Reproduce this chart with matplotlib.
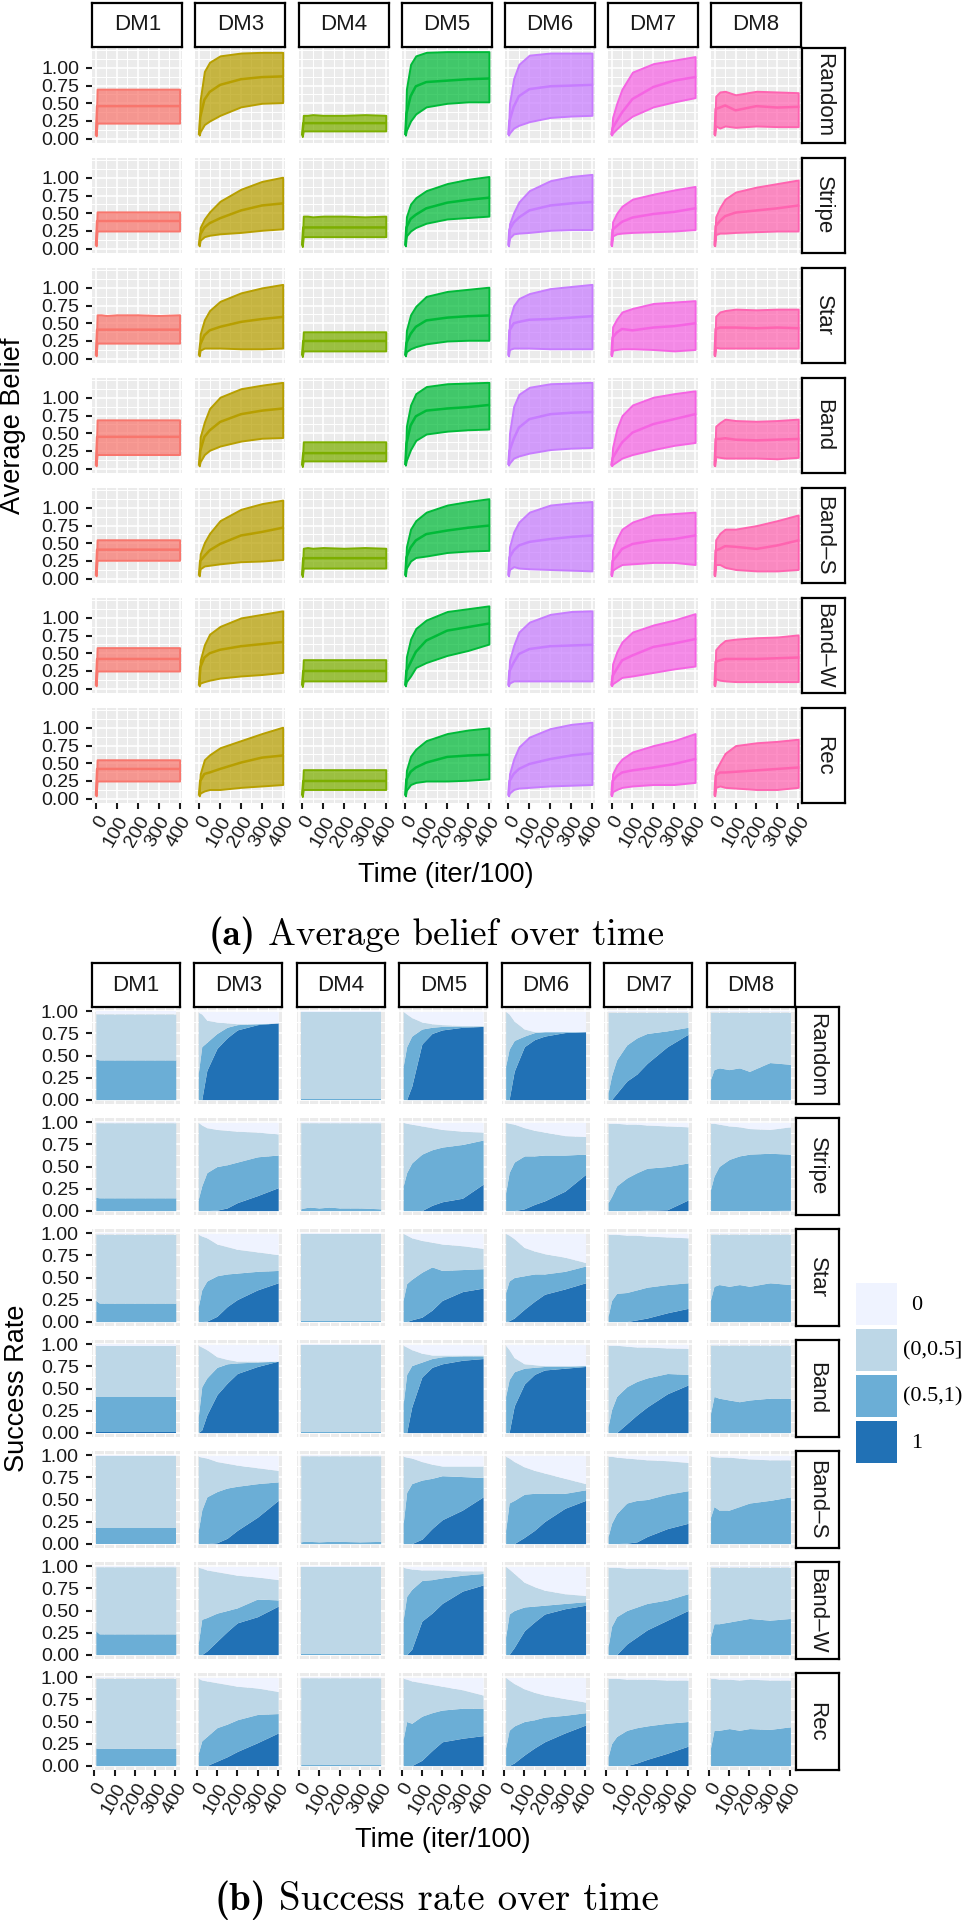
import numpy as np
import matplotlib
matplotlib.use("Agg")
import matplotlib.pyplot as plt
from matplotlib.colors import to_rgba
from matplotlib.patches import Rectangle

plt.rcParams['font.family'] = ['Liberation Sans', 'DejaVu Sans']

# ---------------- data ----------------
DMS = ["DM1", "DM3", "DM4", "DM5", "DM6", "DM7", "DM8"]
TOPOS = ["Random", "Stripe", "Star", "Band", "Band\u2013S", "Band\u2013W", "Rec"]
DM_COLORS = ["#F8766D", "#B79F00", "#7CAE00", "#00BA38", "#C77CFF", "#F564E3", "#FF64B0"]
LEVELS = ["0", "(0,0.5]", "(0.5,1)", "1"]
BLUES = ["#EFF3FF", "#BDD7E7", "#6BAED6", "#2171B5"]

X_TICKS = [0, 100, 200, 300, 400]
Y_TICKS = [0.0, 0.25, 0.5, 0.75, 1.0]
Y_LABELS = ["0.00", "0.25", "0.50", "0.75", "1.00"]

# (a) average belief: time points and, per DM, rows = topologies
TIME_A = [0, 5, 25, 50, 100, 200, 300, 400]

dm1_hi = [[0.09, 0.70, 0.70, 0.70, 0.70, 0.70, 0.70, 0.70],
          [0.08, 0.52, 0.52, 0.52, 0.52, 0.52, 0.52, 0.52],
          [0.08, 0.62, 0.62, 0.61, 0.62, 0.62, 0.61, 0.62],
          [0.09, 0.69, 0.69, 0.69, 0.69, 0.69, 0.69, 0.69],
          [0.08, 0.55, 0.55, 0.55, 0.55, 0.55, 0.55, 0.55],
          [0.08, 0.58, 0.58, 0.58, 0.58, 0.58, 0.58, 0.58],
          [0.08, 0.55, 0.55, 0.55, 0.55, 0.55, 0.55, 0.55]]
dm1_mean = [[0.06, 0.46, 0.46, 0.46, 0.46, 0.46, 0.46, 0.46],
            [0.06, 0.39, 0.39, 0.39, 0.39, 0.39, 0.39, 0.39],
            [0.06, 0.41, 0.41, 0.41, 0.41, 0.41, 0.41, 0.41],
            [0.06, 0.45, 0.45, 0.45, 0.45, 0.45, 0.45, 0.45],
            [0.06, 0.41, 0.41, 0.41, 0.41, 0.41, 0.41, 0.41],
            [0.06, 0.42, 0.42, 0.42, 0.42, 0.42, 0.42, 0.42],
            [0.06, 0.42, 0.42, 0.42, 0.42, 0.42, 0.42, 0.42]]
dm1_lo = [[0.04, 0.22, 0.22, 0.22, 0.22, 0.22, 0.22, 0.22],
          [0.04, 0.25, 0.25, 0.25, 0.25, 0.25, 0.25, 0.25],
          [0.04, 0.22, 0.22, 0.22, 0.22, 0.22, 0.22, 0.22],
          [0.04, 0.20, 0.20, 0.20, 0.20, 0.20, 0.20, 0.20],
          [0.04, 0.26, 0.26, 0.26, 0.26, 0.26, 0.26, 0.26],
          [0.04, 0.25, 0.25, 0.25, 0.25, 0.25, 0.25, 0.25],
          [0.04, 0.25, 0.25, 0.25, 0.25, 0.25, 0.25, 0.25]]

dm3_hi = [[0.10, 0.55, 0.95, 1.08, 1.17, 1.21, 1.22, 1.22],
          [0.08, 0.30, 0.42, 0.52, 0.67, 0.84, 0.95, 1.01],
          [0.08, 0.35, 0.55, 0.68, 0.81, 0.93, 1.00, 1.05],
          [0.08, 0.45, 0.66, 0.85, 1.01, 1.13, 1.18, 1.22],
          [0.08, 0.35, 0.51, 0.64, 0.82, 0.98, 1.06, 1.11],
          [0.08, 0.40, 0.62, 0.77, 0.88, 1.00, 1.05, 1.10],
          [0.08, 0.35, 0.55, 0.62, 0.72, 0.82, 0.92, 1.01]]
dm3_mean = [[0.07, 0.30, 0.55, 0.66, 0.76, 0.84, 0.87, 0.88],
            [0.06, 0.20, 0.30, 0.36, 0.43, 0.54, 0.61, 0.64],
            [0.06, 0.20, 0.33, 0.40, 0.45, 0.52, 0.56, 0.59],
            [0.06, 0.25, 0.45, 0.54, 0.66, 0.77, 0.82, 0.85],
            [0.06, 0.25, 0.32, 0.40, 0.49, 0.61, 0.66, 0.72],
            [0.06, 0.30, 0.44, 0.50, 0.55, 0.60, 0.63, 0.66],
            [0.06, 0.25, 0.35, 0.37, 0.42, 0.51, 0.58, 0.61]]
dm3_lo = [[0.05, 0.10, 0.20, 0.25, 0.33, 0.45, 0.50, 0.51],
          [0.04, 0.12, 0.17, 0.19, 0.21, 0.23, 0.26, 0.28],
          [0.04, 0.12, 0.15, 0.15, 0.15, 0.14, 0.14, 0.15],
          [0.04, 0.10, 0.20, 0.26, 0.32, 0.39, 0.43, 0.44],
          [0.04, 0.14, 0.18, 0.19, 0.21, 0.24, 0.25, 0.27],
          [0.04, 0.08, 0.10, 0.12, 0.15, 0.18, 0.20, 0.23],
          [0.04, 0.08, 0.11, 0.13, 0.13, 0.16, 0.18, 0.20]]

dm4_hi = [[0.08, 0.33, 0.33, 0.34, 0.33, 0.33, 0.34, 0.33],
          [0.08, 0.46, 0.46, 0.45, 0.46, 0.46, 0.45, 0.46],
          [0.08, 0.38, 0.38, 0.38, 0.38, 0.38, 0.38, 0.38],
          [0.08, 0.38, 0.38, 0.38, 0.38, 0.38, 0.38, 0.38],
          [0.08, 0.43, 0.44, 0.43, 0.44, 0.43, 0.44, 0.43],
          [0.08, 0.41, 0.41, 0.41, 0.41, 0.41, 0.41, 0.41],
          [0.08, 0.41, 0.41, 0.41, 0.41, 0.41, 0.41, 0.41]]
dm4_mean = [[0.06, 0.22, 0.22, 0.22, 0.22, 0.22, 0.22, 0.22],
            [0.06, 0.30, 0.30, 0.30, 0.30, 0.30, 0.30, 0.30],
            [0.06, 0.25, 0.25, 0.25, 0.25, 0.25, 0.25, 0.25],
            [0.06, 0.22, 0.22, 0.22, 0.22, 0.22, 0.22, 0.22],
            [0.06, 0.29, 0.29, 0.29, 0.29, 0.29, 0.29, 0.29],
            [0.06, 0.25, 0.25, 0.25, 0.25, 0.25, 0.25, 0.25],
            [0.06, 0.25, 0.25, 0.25, 0.25, 0.25, 0.25, 0.25]]
dm4_lo = [[0.03, 0.11, 0.11, 0.11, 0.11, 0.11, 0.11, 0.11],
          [0.03, 0.17, 0.17, 0.17, 0.17, 0.17, 0.17, 0.17],
          [0.03, 0.11, 0.11, 0.11, 0.11, 0.11, 0.11, 0.11],
          [0.03, 0.11, 0.11, 0.11, 0.11, 0.11, 0.11, 0.11],
          [0.03, 0.15, 0.15, 0.15, 0.15, 0.15, 0.15, 0.15],
          [0.03, 0.11, 0.11, 0.11, 0.11, 0.11, 0.11, 0.11],
          [0.03, 0.13, 0.13, 0.13, 0.13, 0.13, 0.13, 0.13]]

dm5_hi = [[0.10, 0.70, 1.05, 1.17, 1.22, 1.23, 1.23, 1.23],
          [0.08, 0.45, 0.63, 0.72, 0.82, 0.92, 0.98, 1.02],
          [0.08, 0.40, 0.62, 0.74, 0.88, 0.95, 0.98, 1.01],
          [0.10, 0.60, 0.90, 1.06, 1.16, 1.20, 1.21, 1.22],
          [0.08, 0.45, 0.70, 0.82, 0.94, 1.04, 1.09, 1.13],
          [0.08, 0.45, 0.70, 0.85, 0.97, 1.09, 1.13, 1.17],
          [0.08, 0.40, 0.60, 0.70, 0.82, 0.92, 0.97, 1.00]]
dm5_mean = [[0.07, 0.35, 0.60, 0.74, 0.80, 0.82, 0.84, 0.85],
            [0.06, 0.30, 0.42, 0.48, 0.57, 0.65, 0.69, 0.72],
            [0.06, 0.22, 0.35, 0.45, 0.54, 0.58, 0.60, 0.61],
            [0.07, 0.35, 0.61, 0.74, 0.82, 0.85, 0.87, 0.90],
            [0.06, 0.30, 0.44, 0.54, 0.63, 0.68, 0.72, 0.75],
            [0.06, 0.25, 0.37, 0.52, 0.68, 0.82, 0.87, 0.92],
            [0.06, 0.27, 0.38, 0.44, 0.51, 0.59, 0.61, 0.62]]
dm5_lo = [[0.05, 0.12, 0.25, 0.35, 0.45, 0.50, 0.52, 0.52],
          [0.04, 0.18, 0.25, 0.30, 0.36, 0.42, 0.44, 0.46],
          [0.04, 0.10, 0.14, 0.17, 0.21, 0.25, 0.26, 0.26],
          [0.05, 0.12, 0.27, 0.40, 0.49, 0.53, 0.55, 0.56],
          [0.04, 0.15, 0.25, 0.30, 0.32, 0.37, 0.39, 0.40],
          [0.04, 0.10, 0.18, 0.30, 0.37, 0.47, 0.54, 0.63],
          [0.04, 0.12, 0.20, 0.23, 0.25, 0.25, 0.26, 0.28]]

dm6_hi = [[0.10, 0.50, 0.85, 1.05, 1.18, 1.21, 1.21, 1.21],
          [0.08, 0.35, 0.51, 0.66, 0.82, 0.96, 1.02, 1.05],
          [0.08, 0.55, 0.75, 0.85, 0.92, 0.99, 1.02, 1.05],
          [0.10, 0.50, 0.88, 1.05, 1.15, 1.20, 1.21, 1.22],
          [0.08, 0.45, 0.66, 0.80, 0.94, 1.04, 1.07, 1.09],
          [0.08, 0.40, 0.61, 0.80, 0.94, 1.05, 1.09, 1.10],
          [0.08, 0.35, 0.56, 0.73, 0.87, 0.99, 1.05, 1.08]]
dm6_mean = [[0.07, 0.25, 0.45, 0.60, 0.70, 0.74, 0.75, 0.76],
            [0.06, 0.27, 0.37, 0.44, 0.54, 0.61, 0.64, 0.66],
            [0.06, 0.40, 0.50, 0.52, 0.55, 0.56, 0.58, 0.60],
            [0.07, 0.25, 0.42, 0.58, 0.70, 0.77, 0.79, 0.80],
            [0.06, 0.30, 0.40, 0.47, 0.52, 0.56, 0.59, 0.61],
            [0.06, 0.25, 0.37, 0.49, 0.56, 0.60, 0.61, 0.62],
            [0.06, 0.25, 0.35, 0.42, 0.49, 0.56, 0.61, 0.64]]
dm6_lo = [[0.05, 0.08, 0.15, 0.19, 0.24, 0.30, 0.32, 0.33],
          [0.04, 0.15, 0.21, 0.22, 0.23, 0.26, 0.27, 0.27],
          [0.04, 0.13, 0.15, 0.15, 0.15, 0.14, 0.14, 0.14],
          [0.05, 0.08, 0.15, 0.18, 0.22, 0.27, 0.29, 0.30],
          [0.04, 0.13, 0.17, 0.15, 0.14, 0.13, 0.12, 0.11],
          [0.04, 0.08, 0.11, 0.11, 0.11, 0.11, 0.11, 0.11],
          [0.04, 0.08, 0.13, 0.15, 0.16, 0.18, 0.19, 0.20]]

dm7_hi = [[0.08, 0.30, 0.50, 0.70, 0.94, 1.06, 1.11, 1.16],
          [0.08, 0.38, 0.50, 0.60, 0.70, 0.77, 0.83, 0.88],
          [0.08, 0.45, 0.56, 0.66, 0.71, 0.78, 0.80, 0.82],
          [0.08, 0.30, 0.56, 0.75, 0.90, 1.01, 1.06, 1.10],
          [0.08, 0.40, 0.56, 0.70, 0.80, 0.90, 0.92, 0.94],
          [0.08, 0.35, 0.52, 0.66, 0.80, 0.90, 0.97, 1.06],
          [0.08, 0.35, 0.47, 0.56, 0.66, 0.75, 0.82, 0.92]]
dm7_mean = [[0.07, 0.15, 0.25, 0.37, 0.56, 0.73, 0.82, 0.87],
            [0.06, 0.27, 0.32, 0.38, 0.44, 0.49, 0.52, 0.57],
            [0.06, 0.30, 0.37, 0.42, 0.40, 0.44, 0.46, 0.50],
            [0.06, 0.15, 0.25, 0.37, 0.51, 0.63, 0.70, 0.77],
            [0.06, 0.25, 0.32, 0.42, 0.49, 0.54, 0.56, 0.61],
            [0.06, 0.18, 0.28, 0.40, 0.47, 0.59, 0.64, 0.70],
            [0.06, 0.25, 0.32, 0.37, 0.40, 0.44, 0.49, 0.56]]
dm7_lo = [[0.05, 0.08, 0.14, 0.21, 0.32, 0.45, 0.52, 0.58],
          [0.04, 0.18, 0.21, 0.22, 0.23, 0.24, 0.25, 0.27],
          [0.04, 0.12, 0.13, 0.14, 0.14, 0.13, 0.11, 0.13],
          [0.04, 0.06, 0.10, 0.15, 0.20, 0.27, 0.33, 0.37],
          [0.04, 0.12, 0.16, 0.20, 0.21, 0.23, 0.23, 0.20],
          [0.04, 0.07, 0.11, 0.16, 0.18, 0.23, 0.28, 0.32],
          [0.04, 0.10, 0.13, 0.16, 0.18, 0.20, 0.20, 0.23]]

dm8_hi = [[0.10, 0.60, 0.66, 0.67, 0.62, 0.67, 0.66, 0.65],
          [0.08, 0.45, 0.58, 0.70, 0.80, 0.87, 0.92, 0.97],
          [0.08, 0.60, 0.66, 0.68, 0.70, 0.69, 0.70, 0.70],
          [0.08, 0.60, 0.65, 0.70, 0.68, 0.67, 0.68, 0.70],
          [0.08, 0.55, 0.64, 0.70, 0.70, 0.75, 0.82, 0.90],
          [0.08, 0.55, 0.62, 0.68, 0.70, 0.72, 0.73, 0.76],
          [0.08, 0.40, 0.51, 0.64, 0.75, 0.79, 0.81, 0.84]]
dm8_mean = [[0.07, 0.42, 0.44, 0.47, 0.40, 0.46, 0.44, 0.45],
            [0.06, 0.32, 0.39, 0.46, 0.51, 0.54, 0.57, 0.61],
            [0.06, 0.42, 0.44, 0.44, 0.44, 0.43, 0.44, 0.43],
            [0.06, 0.42, 0.42, 0.43, 0.41, 0.40, 0.41, 0.42],
            [0.06, 0.40, 0.42, 0.46, 0.45, 0.42, 0.47, 0.54],
            [0.06, 0.38, 0.40, 0.42, 0.42, 0.42, 0.43, 0.44],
            [0.06, 0.33, 0.37, 0.37, 0.38, 0.40, 0.42, 0.44]]
dm8_lo = [[0.05, 0.18, 0.15, 0.18, 0.16, 0.18, 0.17, 0.17],
          [0.04, 0.20, 0.22, 0.22, 0.23, 0.24, 0.25, 0.25],
          [0.04, 0.16, 0.15, 0.15, 0.15, 0.15, 0.15, 0.15],
          [0.04, 0.17, 0.16, 0.15, 0.15, 0.15, 0.14, 0.16],
          [0.04, 0.20, 0.20, 0.16, 0.13, 0.11, 0.11, 0.13],
          [0.04, 0.14, 0.12, 0.11, 0.10, 0.10, 0.10, 0.10],
          [0.04, 0.16, 0.18, 0.16, 0.15, 0.13, 0.13, 0.16]]

# (b) success rate: cumulative tops of "1", "(0.5,1)", "(0,0.5]"; "0" fills up to 1
TIME_B = [8, 25, 50, 100, 150, 200, 300, 402]

dm1_c1 = [[0.00, 0.00, 0.00, 0.00, 0.00, 0.00, 0.00, 0.00],
          [0.00, 0.00, 0.00, 0.00, 0.00, 0.00, 0.00, 0.00],
          [0.00, 0.00, 0.00, 0.00, 0.00, 0.00, 0.00, 0.00],
          [0.01, 0.01, 0.01, 0.01, 0.01, 0.01, 0.01, 0.01],
          [0.00, 0.00, 0.00, 0.00, 0.00, 0.00, 0.00, 0.00],
          [0.00, 0.00, 0.00, 0.00, 0.00, 0.00, 0.00, 0.00],
          [0.00, 0.00, 0.00, 0.00, 0.00, 0.00, 0.00, 0.00]]
dm1_c2 = [[0.46, 0.45, 0.45, 0.45, 0.45, 0.45, 0.45, 0.45],
          [0.15, 0.145, 0.145, 0.145, 0.145, 0.145, 0.145, 0.145],
          [0.24, 0.21, 0.21, 0.21, 0.21, 0.21, 0.21, 0.21],
          [0.40, 0.40, 0.40, 0.40, 0.40, 0.40, 0.40, 0.40],
          [0.18, 0.18, 0.18, 0.18, 0.18, 0.18, 0.18, 0.18],
          [0.27, 0.235, 0.235, 0.235, 0.235, 0.235, 0.235, 0.235],
          [0.20, 0.195, 0.195, 0.195, 0.195, 0.195, 0.195, 0.195]]
dm1_c3 = [[0.97, 0.97, 0.97, 0.97, 0.97, 0.97, 0.97, 0.97],
          [0.995, 0.995, 0.995, 0.995, 0.995, 0.995, 0.995, 0.995],
          [0.99, 0.99, 0.99, 0.99, 0.99, 0.99, 0.99, 0.99],
          [0.985, 0.985, 0.985, 0.985, 0.985, 0.985, 0.985, 0.985],
          [0.995, 0.995, 0.995, 0.995, 0.995, 0.995, 0.995, 0.995],
          [0.995, 0.995, 0.995, 0.995, 0.995, 0.995, 0.995, 0.995],
          [0.99, 0.99, 0.99, 0.99, 0.99, 0.99, 0.99, 0.99]]

dm3_c1 = [[0.00, 0.00, 0.33, 0.58, 0.70, 0.79, 0.85, 0.87],
          [0.00, 0.00, 0.00, 0.005, 0.03, 0.09, 0.17, 0.26],
          [0.00, 0.00, 0.005, 0.06, 0.17, 0.25, 0.36, 0.44],
          [0.00, 0.03, 0.20, 0.43, 0.56, 0.67, 0.75, 0.81],
          [0.00, 0.00, 0.00, 0.01, 0.06, 0.15, 0.30, 0.49],
          [0.00, 0.00, 0.04, 0.15, 0.26, 0.36, 0.43, 0.55],
          [0.00, 0.00, 0.00, 0.05, 0.10, 0.16, 0.26, 0.37]]
dm3_c2 = [[0.30, 0.60, 0.65, 0.75, 0.82, 0.85, 0.86, 0.87],
          [0.13, 0.28, 0.43, 0.50, 0.52, 0.55, 0.61, 0.63],
          [0.17, 0.36, 0.46, 0.52, 0.54, 0.55, 0.57, 0.58],
          [0.18, 0.52, 0.62, 0.74, 0.78, 0.79, 0.80, 0.81],
          [0.15, 0.38, 0.53, 0.59, 0.63, 0.65, 0.68, 0.70],
          [0.13, 0.40, 0.42, 0.47, 0.50, 0.53, 0.63, 0.62],
          [0.14, 0.28, 0.33, 0.43, 0.47, 0.52, 0.58, 0.59]]
dm3_c3 = [[0.99, 0.97, 0.90, 0.88, 0.87, 0.86, 0.86, 0.87],
          [1.00, 0.97, 0.94, 0.92, 0.91, 0.90, 0.89, 0.87],
          [0.99, 0.97, 0.95, 0.88, 0.85, 0.82, 0.79, 0.76],
          [0.99, 0.97, 0.94, 0.86, 0.83, 0.81, 0.81, 0.81],
          [0.99, 0.98, 0.97, 0.93, 0.91, 0.89, 0.86, 0.83],
          [0.99, 0.98, 0.96, 0.94, 0.92, 0.90, 0.88, 0.85],
          [0.99, 0.97, 0.96, 0.94, 0.92, 0.90, 0.88, 0.84]]

dm4_c1 = [[0.00, 0.00, 0.00, 0.00, 0.00, 0.00, 0.00, 0.00],
          [0.00, 0.00, 0.00, 0.00, 0.00, 0.00, 0.00, 0.00],
          [0.00, 0.00, 0.00, 0.00, 0.00, 0.00, 0.00, 0.00],
          [0.00, 0.00, 0.00, 0.00, 0.00, 0.00, 0.00, 0.00],
          [0.00, 0.00, 0.00, 0.00, 0.00, 0.00, 0.00, 0.00],
          [0.00, 0.00, 0.00, 0.00, 0.00, 0.00, 0.00, 0.00],
          [0.00, 0.00, 0.00, 0.00, 0.00, 0.00, 0.00, 0.00]]
dm4_c2 = [[0.005, 0.005, 0.005, 0.005, 0.005, 0.005, 0.005, 0.005],
          [0.02, 0.03, 0.04, 0.03, 0.04, 0.03, 0.03, 0.02],
          [0.008, 0.008, 0.008, 0.008, 0.008, 0.008, 0.008, 0.008],
          [0.005, 0.005, 0.005, 0.005, 0.005, 0.005, 0.005, 0.005],
          [0.02, 0.025, 0.025, 0.02, 0.025, 0.025, 0.02, 0.025],
          [0.012, 0.012, 0.012, 0.012, 0.012, 0.012, 0.012, 0.012],
          [0.012, 0.012, 0.012, 0.012, 0.015, 0.012, 0.012, 0.012]]
dm4_c3 = [[0.995, 0.995, 0.995, 0.995, 0.995, 0.995, 0.995, 0.995],
          [0.995, 0.995, 0.995, 0.995, 0.995, 0.995, 0.995, 0.995],
          [0.995, 0.995, 0.995, 0.995, 0.995, 0.995, 0.995, 0.995],
          [0.995, 0.995, 0.995, 0.995, 0.995, 0.995, 0.995, 0.995],
          [0.995, 0.995, 0.995, 0.995, 0.995, 0.995, 0.995, 0.995],
          [0.995, 0.995, 0.995, 0.995, 0.995, 0.995, 0.995, 0.995],
          [0.995, 0.995, 0.995, 0.995, 0.995, 0.995, 0.995, 0.995]]

dm5_c1 = [[0.00, 0.00, 0.15, 0.63, 0.75, 0.79, 0.82, 0.83],
          [0.00, 0.00, 0.00, 0.00, 0.06, 0.10, 0.14, 0.30],
          [0.00, 0.00, 0.02, 0.05, 0.13, 0.24, 0.34, 0.38],
          [0.00, 0.00, 0.29, 0.63, 0.74, 0.78, 0.82, 0.84],
          [0.00, 0.00, 0.00, 0.05, 0.17, 0.27, 0.38, 0.53],
          [0.00, 0.00, 0.06, 0.38, 0.47, 0.58, 0.72, 0.79],
          [0.00, 0.00, 0.00, 0.06, 0.17, 0.27, 0.31, 0.34]]
dm5_c2 = [[0.38, 0.60, 0.72, 0.80, 0.82, 0.83, 0.83, 0.83],
          [0.28, 0.43, 0.54, 0.64, 0.69, 0.72, 0.75, 0.80],
          [0.25, 0.43, 0.48, 0.56, 0.62, 0.58, 0.59, 0.60],
          [0.33, 0.66, 0.76, 0.80, 0.84, 0.86, 0.87, 0.87],
          [0.23, 0.58, 0.68, 0.72, 0.74, 0.77, 0.76, 0.75],
          [0.40, 0.66, 0.74, 0.84, 0.85, 0.87, 0.90, 0.92],
          [0.30, 0.50, 0.48, 0.56, 0.60, 0.63, 0.65, 0.65]]
dm5_c3 = [[1.00, 0.97, 0.93, 0.88, 0.86, 0.85, 0.84, 0.84],
          [1.00, 0.99, 0.98, 0.96, 0.94, 0.92, 0.90, 0.89],
          [1.00, 0.98, 0.95, 0.92, 0.90, 0.88, 0.86, 0.83],
          [0.99, 0.97, 0.94, 0.90, 0.88, 0.88, 0.88, 0.88],
          [0.99, 0.98, 0.97, 0.93, 0.90, 0.88, 0.88, 0.88],
          [0.99, 0.98, 0.97, 0.96, 0.96, 0.96, 0.95, 0.95],
          [0.99, 0.98, 0.96, 0.94, 0.92, 0.90, 0.86, 0.80]]

dm6_c1 = [[0.00, 0.00, 0.32, 0.60, 0.68, 0.72, 0.76, 0.77],
          [0.00, 0.00, 0.00, 0.02, 0.07, 0.11, 0.22, 0.41],
          [0.00, 0.01, 0.04, 0.14, 0.23, 0.31, 0.37, 0.44],
          [0.00, 0.00, 0.30, 0.55, 0.66, 0.71, 0.73, 0.75],
          [0.00, 0.00, 0.00, 0.07, 0.15, 0.25, 0.40, 0.49],
          [0.00, 0.00, 0.08, 0.27, 0.37, 0.46, 0.52, 0.56],
          [0.00, 0.00, 0.03, 0.12, 0.20, 0.27, 0.37, 0.46]]
dm6_c2 = [[0.38, 0.57, 0.67, 0.72, 0.76, 0.77, 0.77, 0.77],
          [0.20, 0.43, 0.55, 0.62, 0.62, 0.63, 0.63, 0.64],
          [0.33, 0.46, 0.50, 0.52, 0.54, 0.54, 0.57, 0.63],
          [0.41, 0.60, 0.69, 0.73, 0.74, 0.75, 0.75, 0.76],
          [0.15, 0.46, 0.49, 0.56, 0.57, 0.57, 0.57, 0.61],
          [0.20, 0.46, 0.50, 0.54, 0.55, 0.56, 0.58, 0.60],
          [0.20, 0.40, 0.45, 0.50, 0.52, 0.55, 0.57, 0.60]]
dm6_c3 = [[1.00, 0.97, 0.89, 0.80, 0.77, 0.77, 0.77, 0.77],
          [1.00, 0.99, 0.98, 0.94, 0.91, 0.89, 0.85, 0.84],
          [1.00, 0.98, 0.94, 0.84, 0.80, 0.77, 0.73, 0.67],
          [0.99, 0.94, 0.85, 0.78, 0.77, 0.76, 0.76, 0.76],
          [0.99, 0.97, 0.93, 0.87, 0.83, 0.80, 0.74, 0.68],
          [1.00, 0.97, 0.92, 0.82, 0.77, 0.73, 0.69, 0.67],
          [1.00, 0.97, 0.93, 0.87, 0.83, 0.80, 0.76, 0.72]]

dm7_c1 = [[0.00, 0.00, 0.07, 0.21, 0.29, 0.41, 0.60, 0.74],
          [0.00, 0.00, 0.00, 0.00, 0.00, 0.005, 0.01, 0.12],
          [0.00, 0.00, 0.00, 0.00, 0.02, 0.04, 0.10, 0.15],
          [0.00, 0.00, 0.00, 0.10, 0.20, 0.29, 0.44, 0.54],
          [0.00, 0.00, 0.00, 0.005, 0.02, 0.08, 0.17, 0.23],
          [0.00, 0.00, 0.00, 0.12, 0.20, 0.28, 0.39, 0.50],
          [0.00, 0.00, 0.00, 0.00, 0.03, 0.07, 0.14, 0.22]]
dm7_c2 = [[0.08, 0.27, 0.45, 0.62, 0.70, 0.75, 0.78, 0.82],
          [0.09, 0.16, 0.28, 0.37, 0.43, 0.48, 0.50, 0.54],
          [0.06, 0.24, 0.32, 0.33, 0.36, 0.39, 0.42, 0.44],
          [0.07, 0.26, 0.41, 0.52, 0.58, 0.62, 0.67, 0.66],
          [0.08, 0.23, 0.34, 0.46, 0.49, 0.50, 0.56, 0.60],
          [0.09, 0.32, 0.43, 0.50, 0.54, 0.58, 0.62, 0.69],
          [0.10, 0.25, 0.33, 0.40, 0.43, 0.45, 0.48, 0.50]]
dm7_c3 = [[0.99, 0.99, 0.99, 0.99, 0.99, 0.99, 0.99, 0.99],
          [0.99, 0.99, 0.99, 0.98, 0.98, 0.97, 0.96, 0.95],
          [0.99, 0.99, 0.99, 0.98, 0.98, 0.97, 0.96, 0.95],
          [0.99, 0.99, 0.99, 0.98, 0.97, 0.97, 0.96, 0.955],
          [0.99, 0.99, 0.98, 0.97, 0.96, 0.95, 0.94, 0.92],
          [0.99, 0.99, 0.99, 0.98, 0.98, 0.98, 0.97, 0.97],
          [0.99, 0.99, 0.99, 0.98, 0.98, 0.98, 0.97, 0.97]]

dm8_c1 = [[0.00, 0.00, 0.00, 0.00, 0.00, 0.00, 0.00, 0.00],
          [0.00, 0.00, 0.00, 0.00, 0.00, 0.00, 0.00, 0.005],
          [0.00, 0.00, 0.00, 0.00, 0.00, 0.00, 0.00, 0.00],
          [0.00, 0.00, 0.00, 0.00, 0.00, 0.00, 0.00, 0.00],
          [0.00, 0.00, 0.00, 0.00, 0.00, 0.00, 0.00, 0.00],
          [0.00, 0.00, 0.00, 0.00, 0.00, 0.00, 0.00, 0.00],
          [0.00, 0.00, 0.00, 0.00, 0.00, 0.00, 0.00, 0.00]]
dm8_c2 = [[0.23, 0.34, 0.36, 0.34, 0.36, 0.32, 0.42, 0.40],
          [0.24, 0.39, 0.50, 0.58, 0.62, 0.64, 0.65, 0.64],
          [0.25, 0.40, 0.42, 0.40, 0.42, 0.40, 0.44, 0.42],
          [0.22, 0.41, 0.39, 0.37, 0.35, 0.37, 0.39, 0.39],
          [0.30, 0.42, 0.38, 0.38, 0.42, 0.46, 0.49, 0.53],
          [0.20, 0.35, 0.35, 0.37, 0.39, 0.41, 0.39, 0.41],
          [0.20, 0.40, 0.40, 0.42, 0.40, 0.42, 0.41, 0.44]]
dm8_c3 = [[0.99, 0.99, 0.99, 0.99, 0.99, 0.99, 0.99, 0.99],
          [0.99, 0.99, 0.98, 0.96, 0.95, 0.93, 0.92, 0.95],
          [0.99, 0.99, 0.99, 0.99, 0.99, 0.99, 0.99, 0.99],
          [0.99, 0.99, 0.99, 0.99, 0.99, 0.99, 0.99, 0.99],
          [0.99, 0.985, 0.98, 0.98, 0.97, 0.96, 0.95, 0.95],
          [0.99, 0.99, 0.99, 0.99, 0.99, 0.99, 0.99, 0.99],
          [0.99, 0.99, 0.98, 0.98, 0.97, 0.98, 0.97, 0.97]]

belief = {"DM1": (dm1_lo, dm1_mean, dm1_hi), "DM3": (dm3_lo, dm3_mean, dm3_hi),
          "DM4": (dm4_lo, dm4_mean, dm4_hi), "DM5": (dm5_lo, dm5_mean, dm5_hi),
          "DM6": (dm6_lo, dm6_mean, dm6_hi), "DM7": (dm7_lo, dm7_mean, dm7_hi),
          "DM8": (dm8_lo, dm8_mean, dm8_hi)}
success = {"DM1": (dm1_c1, dm1_c2, dm1_c3), "DM3": (dm3_c1, dm3_c2, dm3_c3),
           "DM4": (dm4_c1, dm4_c2, dm4_c3), "DM5": (dm5_c1, dm5_c2, dm5_c3),
           "DM6": (dm6_c1, dm6_c2, dm6_c3), "DM7": (dm7_c1, dm7_c2, dm7_c3),
           "DM8": (dm8_c1, dm8_c2, dm8_c3)}

# ---------------- layout helpers (pixel coords, y down) ----------------
W, H = 969, 1920


def box(x, y, w, h):
    return [x / W, 1 - (y + h) / H, w / W, h / H]


def strip(fig, x, y, w, h, text, rot=0):
    ax = fig.add_axes(box(x, y, w, h))
    ax.set_xticks([])
    ax.set_yticks([])
    for s in ax.spines.values():
        s.set_linewidth(1.6)
        s.set_color("black")
    ax.text(0.5, 0.5, text, rotation=rot, ha="center", va="center",
            fontsize=16, color="#1a1a1a", transform=ax.transAxes)


def style_panel(ax, xlim, ylim, yminor, show_y, show_x):
    ax.set_facecolor("#EBEBEB")
    ax.set_xlim(xlim)
    ax.set_ylim(ylim)
    ax.set_xticks(X_TICKS)
    ax.set_xticks([50, 150, 250, 350], minor=True)
    ax.set_yticks(Y_TICKS)
    ax.set_yticks(yminor, minor=True)
    ax.grid(which="major", color="white", linewidth=1.2)
    ax.grid(which="minor", color="white", linewidth=0.7)
    ax.set_axisbelow(True)
    for s in ax.spines.values():
        s.set_visible(False)
    ax.tick_params(which="minor", length=0)
    ax.tick_params(which="major", length=4.5, width=1.5, color="#1a1a1a",
                   labelsize=14, labelcolor="#1a1a1a")
    ax.tick_params(axis="y", pad=5)
    ax.tick_params(axis="x", pad=3)
    if show_y:
        ax.set_yticklabels(Y_LABELS)
    else:
        ax.tick_params(axis="y", which="major", length=0, labelleft=False)
    if show_x:
        ax.set_xticklabels([str(t) for t in X_TICKS])
        plt.setp(ax.get_xticklabels(), rotation=60, ha="right", va="top",
                 rotation_mode="anchor")
    else:
        ax.tick_params(axis="x", which="major", length=0, labelbottom=False)


def caption(fig, cx, cy, tag, rest, width):
    # bold tag + roman text, sized to the measured caption width
    r = fig.canvas.get_renderer()
    size = 24
    t1 = fig.text(0, 1 - cy / H, tag, family="cmb10", fontsize=size, va="center")
    t2 = fig.text(0, 1 - cy / H, rest, family="cmr10", fontsize=size, va="center")
    gap = 0.33 * size * 100 / 72
    w1 = t1.get_window_extent(r).width
    w2 = t2.get_window_extent(r).width
    scale = width / (w1 + w2 + gap)
    size = size * scale
    t1.set_fontsize(size)
    t2.set_fontsize(size)
    gap *= scale
    w1 *= scale
    w2 *= scale
    x0 = cx - (w1 + w2 + gap) / 2
    t1.set_x(x0 / W)
    t2.set_x((x0 + w1 + gap) / W)


fig = plt.figure(figsize=(W / 100, H / 100), dpi=100)

# ---------------- (a) average belief ----------------
for j, topo in enumerate(TOPOS):
    for i, dm in enumerate(DMS):
        x0 = 92.3 + i * 103.1
        y0 = 48 + j * 110
        ax = fig.add_axes(box(x0, y0, 90, 95))
        style_panel(ax, (-18, 413), (-0.061, 1.281),
                    [0.125, 0.375, 0.625, 0.875, 1.125, 1.25], i == 0, j == len(TOPOS) - 1)
        lo, mean, hi = belief[dm]
        col = DM_COLORS[i]
        ax.fill_between(TIME_A, lo[j], hi[j], facecolor=to_rgba(col, 0.72),
                        edgecolor=col, linewidth=1.4, zorder=2)
        ax.plot(TIME_A, mean[j], color=col, linewidth=1.8, zorder=3)
for i, dm in enumerate(DMS):
    strip(fig, 92.3 + i * 103.1, 3, 90, 44, dm)
for j, topo in enumerate(TOPOS):
    strip(fig, 802, 48 + j * 110, 43, 95, topo, rot=-90)

fig.text(13 / W, 1 - 426 / H, "Average Belief", rotation=90, ha="center", va="center",
         fontsize=19.5, color="black")
fig.text(446 / W, 1 - 875 / H, "Time (iter/100)", ha="center", va="center",
         fontsize=19.5, color="black")
caption(fig, 436, 935, "(a)", "Average belief over time", 454)

# ---------------- (b) success rate ----------------
for j, topo in enumerate(TOPOS):
    for i, dm in enumerate(DMS):
        x0 = 92 + i * 102.45
        y0 = 1007 + j * 111
        ax = fig.add_axes(box(x0, y0, 88, 97))
        style_panel(ax, (-11, 423), (-0.05, 1.05),
                    [0.125, 0.375, 0.625, 0.875], i == 0, j == len(TOPOS) - 1)
        c1, c2, c3 = success[dm]
        ones = [1.0] * len(TIME_B)
        zeros = [0.0] * len(TIME_B)
        ax.fill_between(TIME_B, zeros, c1[j], color=BLUES[3], linewidth=0, zorder=2)
        ax.fill_between(TIME_B, c1[j], c2[j], color=BLUES[2], linewidth=0, zorder=2)
        ax.fill_between(TIME_B, c2[j], c3[j], color=BLUES[1], linewidth=0, zorder=2)
        ax.fill_between(TIME_B, c3[j], ones, color=BLUES[0], linewidth=0, zorder=2)
for i, dm in enumerate(DMS):
    strip(fig, 92 + i * 102.45, 963, 88, 44, dm)
for j, topo in enumerate(TOPOS):
    strip(fig, 795.5, 1007 + j * 111, 43, 97, topo, rot=-90)

fig.text(17 / W, 1 - 1388 / H, "Success Rate", rotation=90, ha="center", va="center",
         fontsize=19.5, color="black")
fig.text(443 / W, 1 - 1840 / H, "Time (iter/100)", ha="center", va="center",
         fontsize=19.5, color="black")
caption(fig, 436, 1900, "(b)", "Success rate over time", 444)

# legend
for k, lev in enumerate(LEVELS):
    ky = 1283 + k * 46
    fig.add_artist(Rectangle((856 / W, 1 - (ky + 42) / H), 41 / W, 42 / H,
                             transform=fig.transFigure, facecolor=BLUES[k],
                             edgecolor="none"))
    lx = 911 if len(lev) == 1 else 903
    fig.text(lx / W, 1 - (ky + 22) / H, lev, family="Liberation Serif",
             ha="left", va="center", fontsize=16, color="black")

fig.savefig("out.png", dpi=100)
